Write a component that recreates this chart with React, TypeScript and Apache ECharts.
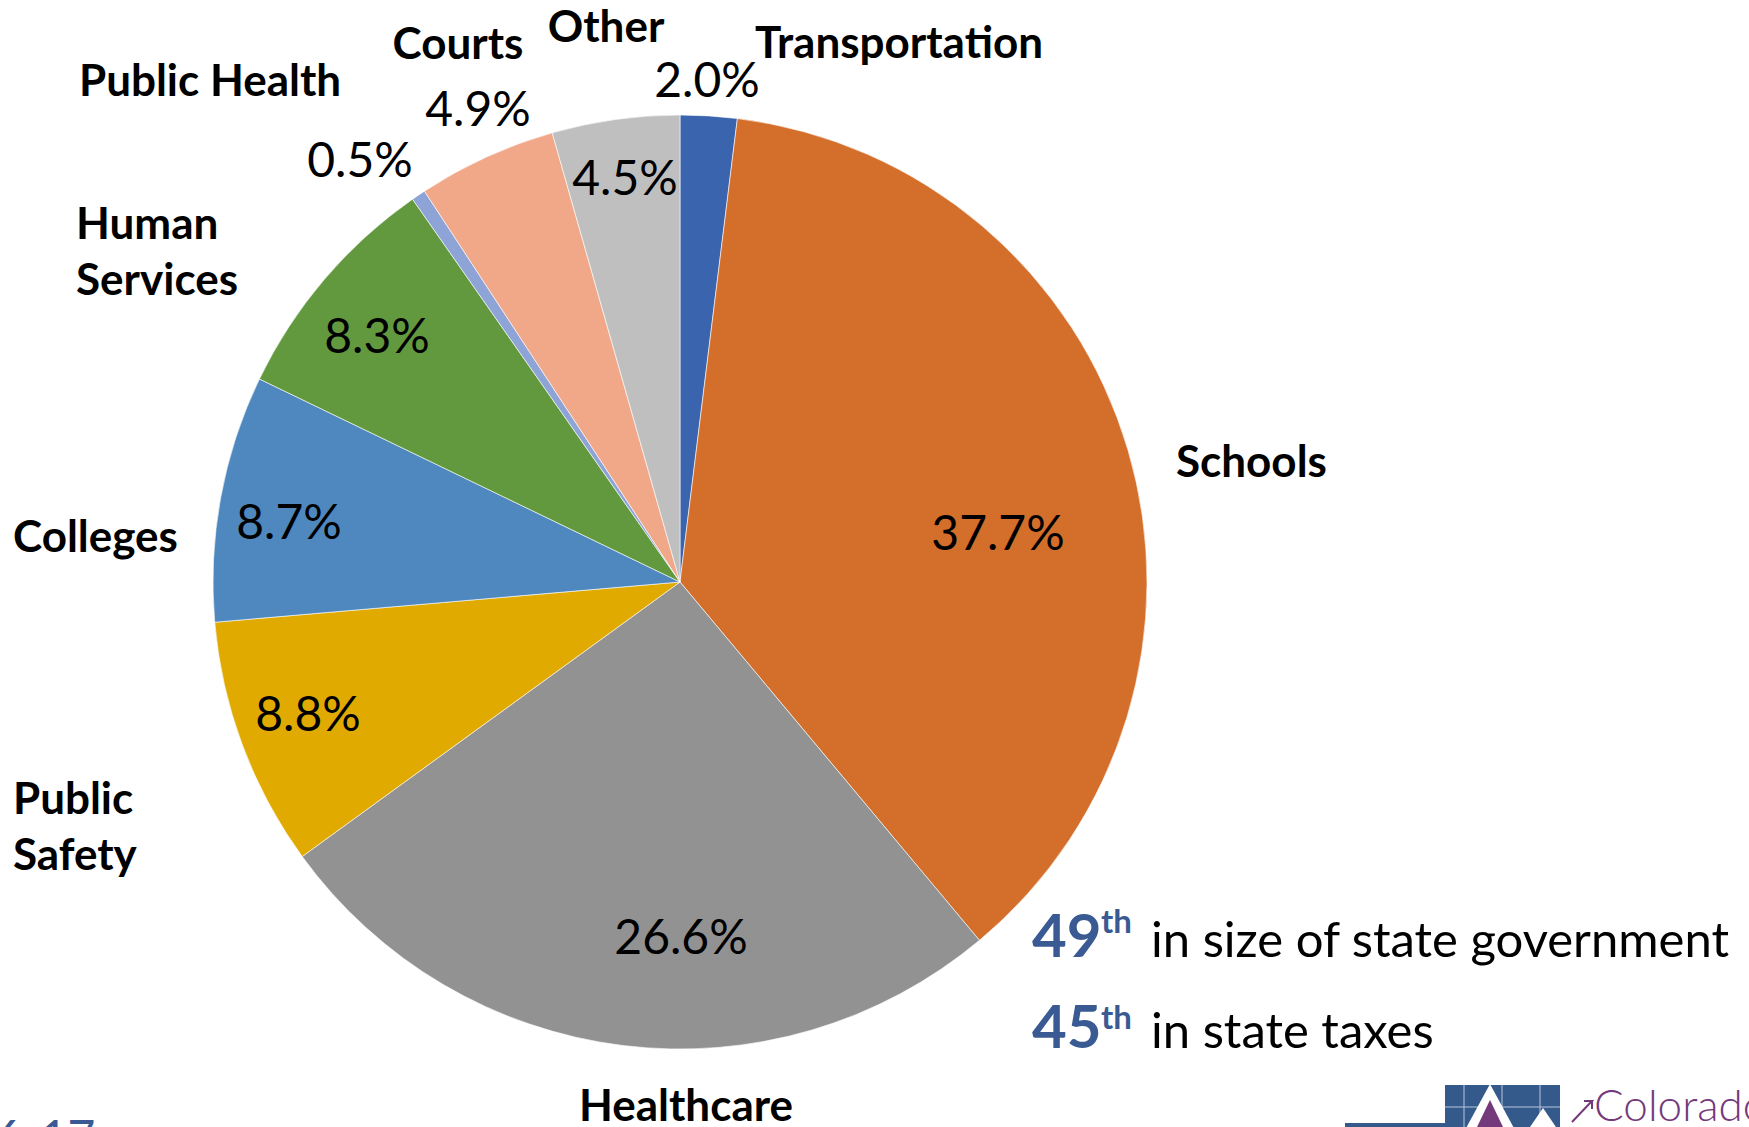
import React, { useEffect, useRef } from "react";
import * as echarts from "echarts";

// ---- data ----
const categories = [
  "Transportation",
  "Schools",
  "Healthcare",
  "Public Safety",
  "Colleges",
  "Human Services",
  "Public Health",
  "Courts",
  "Other",
];
const shares = [2.0, 37.7, 26.6, 8.8, 8.7, 8.3, 0.5, 4.9, 4.5];
const nameLabels = [
  "Transportation",
  "Schools",
  "Healthcare",
  "Public\nSafety",
  "Colleges",
  "Human\nServices",
  "Public Health",
  "Courts",
  "Other",
];
const sliceColors = [
  "#3a64ad",
  "#d46e2b",
  "#929292",
  "#e0aa00",
  "#4e88be",
  "#62993f",
  "#8fa4d6",
  "#f0a889",
  "#bfbfbf",
];

// ---- layout (label anchor positions, px) ----
const pctPos: [number, number][] = [
  [707, 78],
  [998, 531],
  [681, 935],
  [308, 712],
  [289, 520],
  [377, 334],
  [360, 158],
  [478, 107],
  [625, 176],
];
const namePos: [number, number, string][] = [
  [755, 41, "left"],
  [1176, 460, "left"],
  [686, 1104, "center"],
  [13, 825, "left"],
  [13, 535, "left"],
  [76, 250, "left"],
  [79, 79, "left"],
  [458, 42, "center"],
  [606, 25, "center"],
];

const FONT = "Lato, 'Noto Sans', sans-serif";
const BLUE = "#3a5a93";
const PURPLE = "#74397a";

export default function App() {
  const ref = useRef<HTMLDivElement>(null);
  useEffect(() => {
    document.body.style.margin = "0";
    const chart = echarts.init(ref.current!, undefined, { renderer: "svg" });
    const data = categories.map((c, i) => ({
      name: c,
      value: shares[i],
      itemStyle: { color: sliceColors[i] },
    }));
    chart.setOption({
      animation: false,
      backgroundColor: "#ffffff",
      series: [
        {
          type: "pie",
          center: [680, 582],
          radius: [0, 467],
          startAngle: 90,
          clockwise: true,
          data,
          itemStyle: { borderColor: "#ffffff", borderWidth: 0.6 },
          label: {
            show: true,
            position: "outside",
            formatter: (p: any) => p.value.toFixed(1) + "%",
            fontFamily: FONT,
            fontSize: 48,
            color: "#000000",
          },
          labelLine: { show: false },
          labelLayout: (p: any) => ({
            x: pctPos[p.dataIndex][0],
            y: pctPos[p.dataIndex][1],
            align: "center",
            verticalAlign: "middle",
          }),
          emphasis: { disabled: true },
        },
        {
          type: "pie",
          center: [680, 582],
          radius: [0, 467],
          startAngle: 90,
          clockwise: true,
          silent: true,
          data: data.map((d, i) => ({
            ...d,
            itemStyle: { color: "transparent" },
            label: nameLabels[i].includes("\n") ? undefined : { lineHeight: 44 },
          })),
          label: {
            show: true,
            position: "outside",
            formatter: (p: any) => nameLabels[p.dataIndex],
            fontFamily: FONT,
            fontWeight: "bold",
            fontSize: 44,
            lineHeight: 56,
            color: "#000000",
          },
          labelLine: { show: false },
          labelLayout: (p: any) => ({
            x: namePos[p.dataIndex][0],
            y: namePos[p.dataIndex][1],
            align: namePos[p.dataIndex][2],
            verticalAlign: "middle",
          }),
          emphasis: { disabled: true },
        },
      ],
      graphic: [
        // annotation
        { type: "text", x: 1032, y: 934, style: { text: "49", font: `bold 60px ${FONT}`, fill: BLUE, verticalAlign: "middle" } },
        { type: "text", x: 1101, y: 920, style: { text: "th", font: `bold 33px ${FONT}`, fill: BLUE, verticalAlign: "middle" } },
        { type: "text", x: 1151, y: 938, style: { text: "in size of state government", font: `49px ${FONT}`, fill: "#000", verticalAlign: "middle" } },
        { type: "text", x: 1032, y: 1025, style: { text: "45", font: `bold 60px ${FONT}`, fill: BLUE, verticalAlign: "middle" } },
        { type: "text", x: 1101, y: 1016, style: { text: "th", font: `bold 33px ${FONT}`, fill: BLUE, verticalAlign: "middle" } },
        { type: "text", x: 1151, y: 1029, style: { text: "in state taxes", font: `49px ${FONT}`, fill: "#000", verticalAlign: "middle" } },
        // page number (cut off at the bottom edge, as in the slide)
        { type: "text", x: -6, y: 1112, style: { text: "6-17", font: `48px ${FONT}`, fill: BLUE, verticalAlign: "top" } },
        // logo
        { type: "rect", shape: { x: 1345, y: 1123, width: 100, height: 10 }, style: { fill: "#345a8c" } },
        { type: "rect", shape: { x: 1445, y: 1085, width: 115, height: 50 }, style: { fill: "#345a8c" } },
        { type: "line", shape: { x1: 1464, y1: 1085, x2: 1464, y2: 1127 }, style: { stroke: "#b8c4d8", lineWidth: 1 } },
        { type: "line", shape: { x1: 1502, y1: 1085, x2: 1502, y2: 1127 }, style: { stroke: "#b8c4d8", lineWidth: 1 } },
        { type: "line", shape: { x1: 1540, y1: 1085, x2: 1540, y2: 1127 }, style: { stroke: "#b8c4d8", lineWidth: 1 } },
        { type: "line", shape: { x1: 1445, y1: 1107, x2: 1560, y2: 1107 }, style: { stroke: "#b8c4d8", lineWidth: 1 } },
        { type: "polygon", shape: { points: [[1490, 1084], [1465, 1130], [1515, 1130]] }, style: { fill: "#ffffff" } },
        { type: "polygon", shape: { points: [[1490, 1100], [1477, 1127], [1503, 1127]] }, style: { fill: PURPLE } },
        { type: "polygon", shape: { points: [[1543, 1108], [1528, 1130], [1558, 1130]] }, style: { fill: "#ffffff" } },
        { type: "polyline", shape: { points: [[1572, 1122], [1592, 1101], [1584, 1101], [1592, 1101], [1592, 1109]] }, style: { stroke: PURPLE, lineWidth: 2, fill: "none" } },
        { type: "text", x: 1594, y: 1082, style: { text: "Colorado", font: `300 44px ${FONT}`, fill: PURPLE, verticalAlign: "top" } },
      ],
    });
    return () => chart.dispose();
  }, []);
  return (
    <div
      ref={ref}
      style={{ position: "absolute", left: 0, top: 0, width: 1749, height: 1127 }}
    />
  );
}
